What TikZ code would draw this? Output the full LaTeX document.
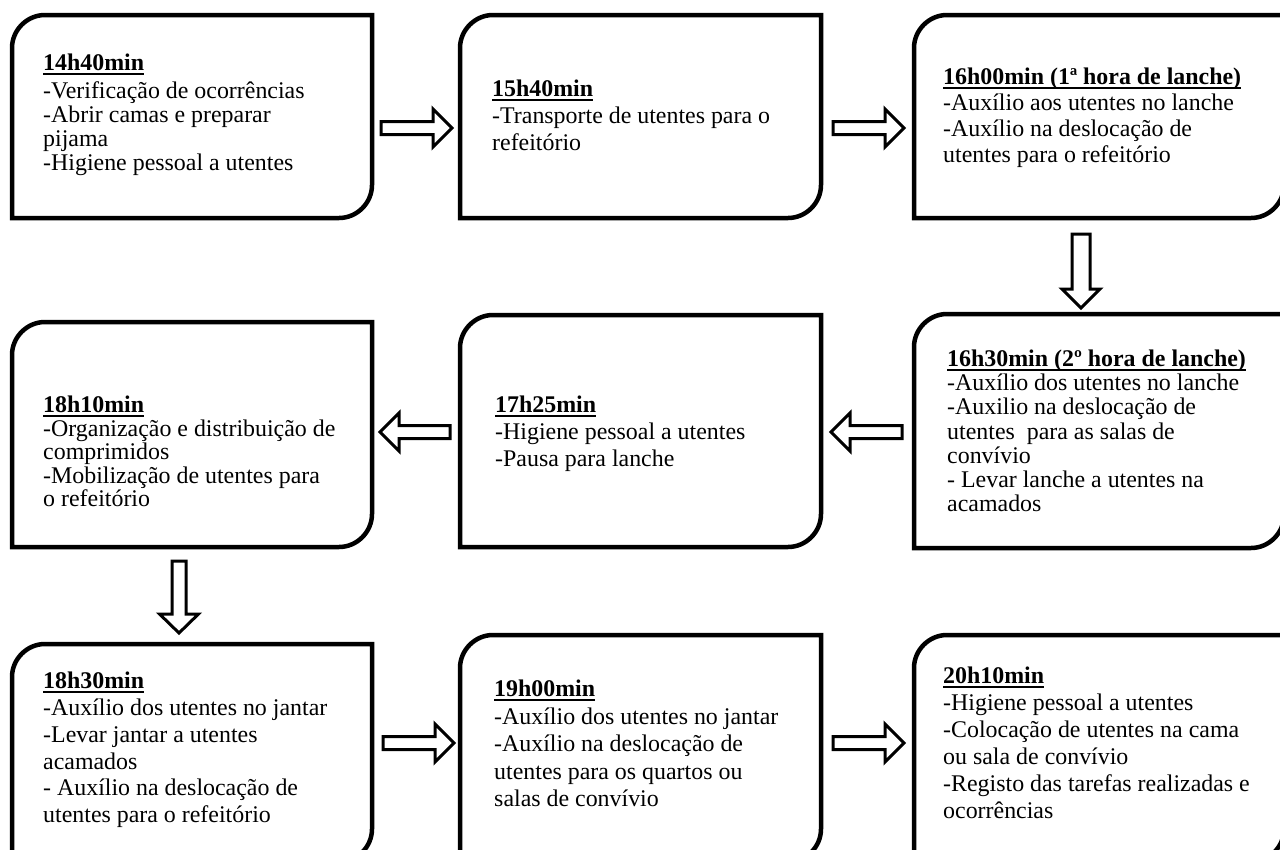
\documentclass[tikz,border=0pt]{standalone}
\usepackage{fontspec}
\setmainfont{Liberation Serif}
\usetikzlibrary{calc}
\newcommand\ttl[1]{\setbox0\hbox{\bfseries #1}\rlap{\rule[-3.8pt]{\wd0}{1.9pt}}\box0}
% box: name, left, top, right, bottom (image pixel coordinates, y downwards)
\newcommand\dobox[5]{%
  \node[inner sep=0pt, outer sep=0pt, minimum width={#4-#2}, minimum height={#5-#3}, anchor=north west] (#1) at (#2,#3) {};
  \draw[boxline] (#2,#5) -- (#2,#3+33)
    .. controls (#2,#3+15) and (#2+15,#3) .. (#2+33,#3)
    -- (#4,#3) -- (#4,#5-33)
    .. controls (#4,#5-15) and (#4-15,#5) .. (#4-33,#5)
    -- cycle;}
% horizontal block arrow: name, tail x, tip x, y, shaft half, head half, head length (signed)
\newcommand\harr[7]{%
  \draw[arrline] (#2,#4-#5) -- (#3-#7,#4-#5) -- (#3-#7,#4-#6) -- (#3,#4) -- (#3-#7,#4+#6) -- (#3-#7,#4+#5) -- (#2,#4+#5) -- cycle;
  \coordinate (#1) at ({(#2+#3)/2},#4);}
\newcommand\varr[7]{%
  \draw[arrline] (#4-#5,#2) -- (#4-#5,#3-#7) -- (#4-#6,#3-#7) -- (#4,#3) -- (#4+#6,#3-#7) -- (#4+#5,#3-#7) -- (#4+#5,#2) -- cycle;
  \coordinate (#1) at (#4,{(#2+#3)/2});}
\tikzset{
  boxline/.style={line width=4.5pt, line join=miter},
  arrline/.style={line width=3pt, fill=white, line join=miter},
  txt/.style={anchor=north west, align=left, inner sep=0pt, font=\fontsize{23.9}{#1}\selectfont},
  txt/.default=26.5
}
\begin{document}
\begin{tikzpicture}[x=1pt,y=-1pt]
\useasboundingbox (0,0) rectangle (1280,849);
\clip (0,0) rectangle (1280,849);
\fill[white] (0,0) rectangle (1280,849);
% boxes
\dobox{b1}{12}{15}{372}{218}
\dobox{b2}{460}{15}{821}{218}
\dobox{b3}{914}{15}{1284}{218}
\dobox{b4}{12}{322}{372}{547}
\dobox{b5}{460}{315}{821}{547}
\dobox{b6}{914}{314}{1284}{548}
\dobox{b7}{12}{644}{372}{862}
\dobox{b8}{460}{635}{821}{862}
\dobox{b9}{914}{635}{1284}{862}
% texts
\node[txt=24] (t1) at (43,54) {\ttl{14h40min}\\[4pt]-Verificação de ocorrências\\-Abrir camas e preparar\\pijama\\-Higiene pessoal a utentes};
\node[txt=26.7] (t2) at (492,80) {\ttl{15h40min}\\-Transporte de utentes para o\\refeitório};
\node[txt=25.8] (t3) at (943,68) {\ttl{16h00min (1ª hora de lanche)}\\-Auxílio aos utentes no lanche\\-Auxílio na deslocação de\\utentes para o refeitório};
\node[txt=23.5] (t4) at (43,396) {\ttl{18h10min}\\-Organização e distribuição de\\comprimidos\\-Mobilização de utentes para\\o refeitório};
\node[txt=27] (t5) at (495,396) {\ttl{17h25min}\\-Higiene pessoal a utentes\\-Pausa para lanche};
\node[txt=24.1] (t6) at (947,350) {\ttl{16h30min (2º hora de lanche)}\\-Auxílio dos utentes no lanche\\-Auxilio na deslocação de\\utentes\enspace para as salas de\\convívio\\- Levar lanche a utentes na\\acamados};
\node[txt=26.8] (t7) at (43,672) {\ttl{18h30min}\\-Auxílio dos utentes no jantar\\-Levar jantar a utentes\\acamados\\- Auxílio na deslocação de\\utentes para o refeitório};
\node[txt=27.5] (t8) at (494,680) {\ttl{19h00min}\\-Auxílio dos utentes no jantar\\-Auxílio na deslocação de\\utentes para os quartos ou\\salas de convívio};
\node[txt=27] (t9) at (943,667) {\ttl{20h10min}\\-Higiene pessoal a utentes\\-Colocação de utentes na cama\\ou sala de convívio\\-Registo das tarefas realizadas e\\ocorrências};
% arrows
\harr{a12}{381}{452}{128}{6.5}{19}{19}
\harr{a23}{833}{904}{128}{6.5}{19}{19}
\varr{a36}{234}{308}{1081}{9}{19}{19}
\harr{a65}{902}{831}{432}{6.5}{19}{-19}
\harr{a54}{450}{380}{432}{6.5}{19}{-19}
\varr{a47}{561}{633}{179}{7}{19.5}{19}
\harr{a78}{383}{454}{743}{6.5}{19}{19}
\harr{a89}{833}{904}{743}{6.5}{19}{19}
\end{tikzpicture}
\end{document}
